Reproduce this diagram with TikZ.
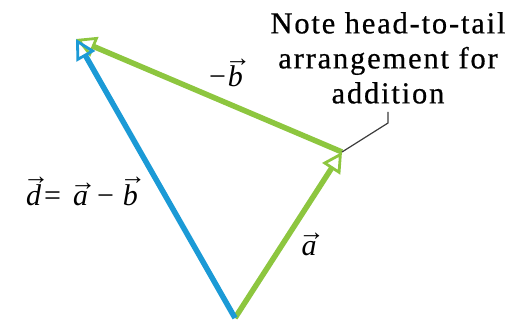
\documentclass[tikz,border=0pt]{standalone}
\usepackage{fontspec}
\setmainfont{Liberation Serif}
\newfontfamily\notefont[LetterSpace=6,FakeBold=0.6]{Liberation Serif}
\usetikzlibrary{arrows.meta}
\definecolor{vgreen}{RGB}{141,198,63}
\definecolor{vblue}{RGB}{27,154,214}
\definecolor{leadgray}{RGB}{60,60,60}
\newsavebox\vlbox
\newcommand\vl[1]{\leavevmode\sbox\vlbox{\textit{#1}}%
  \vbox{\offinterlineskip
    \hbox to\wd\vlbox{\hss\kern5pt{\fontsize{26}{26}\selectfont →}\hss}%
    \copy\vlbox}}
\begin{document}
\begin{tikzpicture}[x=1pt,y=-1pt,
  vec/.style={line width=5.5pt,
    -{Triangle[open,length=20pt,width=21pt,line width=2.8pt]}},
  lbl/.style={font=\fontsize{30}{34}\selectfont, inner sep=0pt, anchor=base},
  note/.style={font=\notefont\fontsize{30.5}{35}\selectfont, align=center,
    inner sep=0pt, anchor=north},
  leader/.style={draw=leadgray, line width=1.2pt}]
\useasboundingbox (0,0) rectangle (516,323);
\coordinate (O) at (235,318);
\coordinate (A) at (342,152);
\coordinate (B) at (76,39);
\coordinate (elbow) at (388,123);
\coordinate (ltop) at (388,112);
% vectors
\draw[vec, vgreen] (O) -- (A);
\draw[vec, vgreen] (A) -- (B);
\draw[vec, vblue] (O) -- (B);
% leader
\draw[leader] (A) -- (elbow) -- (ltop);
% texts
\node[note] (notetext) at (388,12) {Note head-to-tail\\arrangement for\\addition};
\node[lbl] (mb) at (226,87) {−\kern2pt\vl{b}};
\node[lbl] (la) at (309,255) {\vl{a}};
\node[lbl] (ld) at (82,205) {\vl{d}\kern3pt=\kern12pt\vl{a}\kern9pt−\kern9pt\vl{b}};
\end{tikzpicture}
\end{document}
